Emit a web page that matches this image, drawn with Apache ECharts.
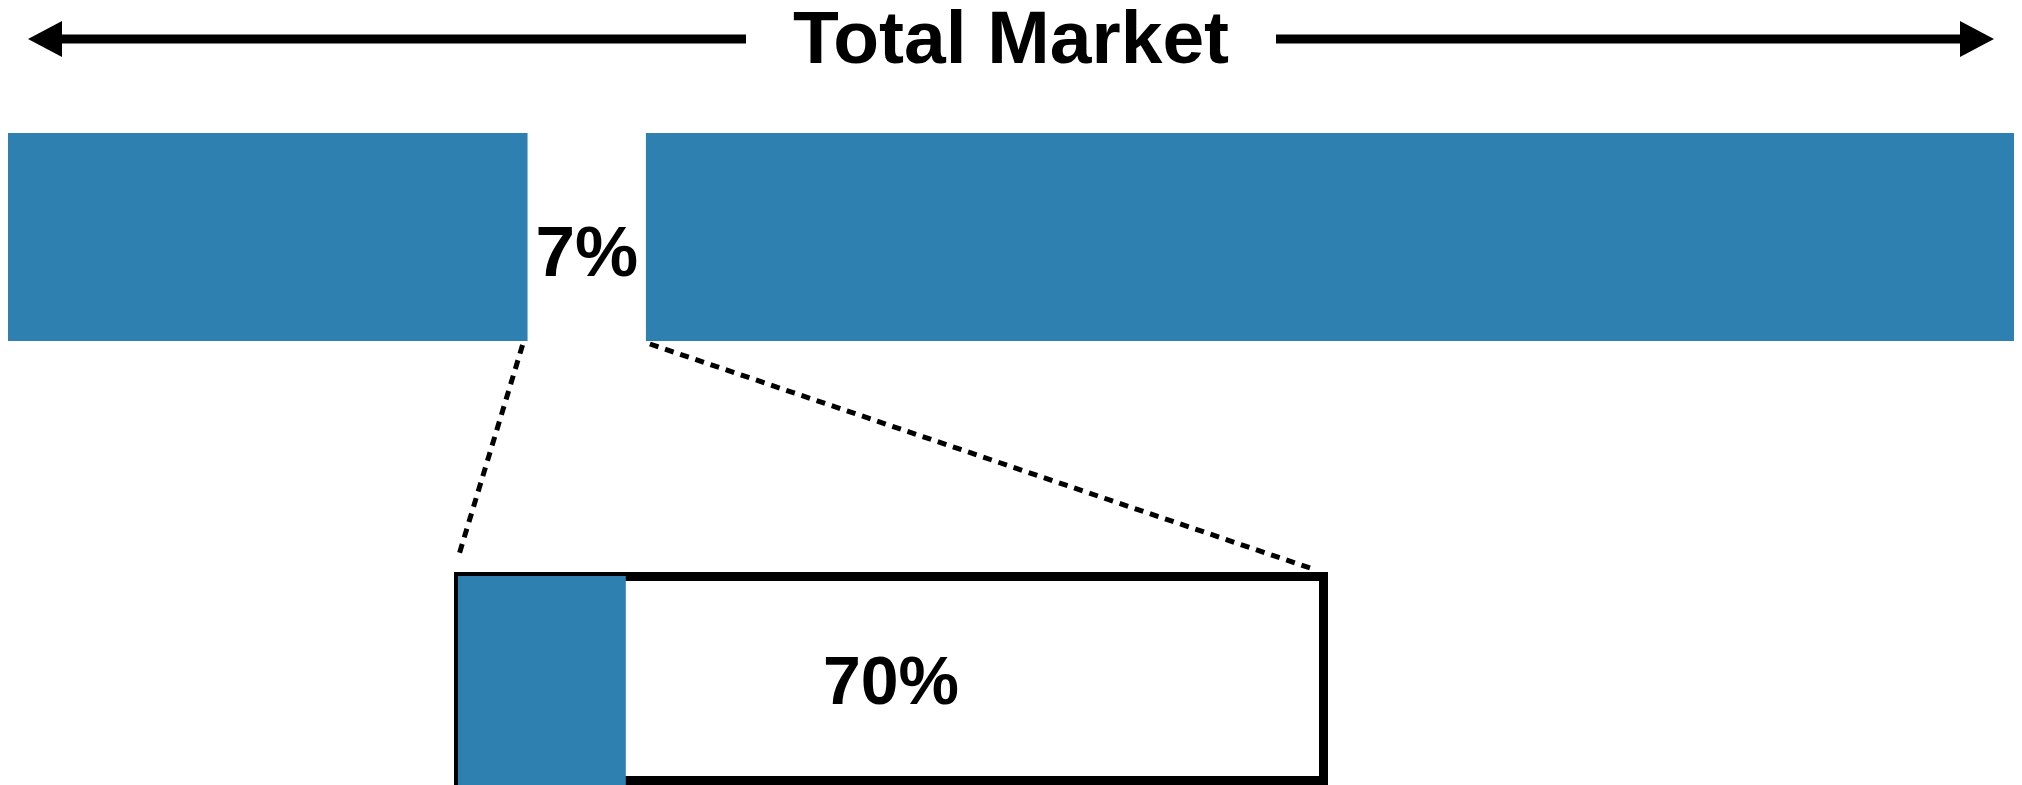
<!DOCTYPE html>
<html>
<head>
<meta charset="utf-8">
<script src="https://cdn.jsdelivr.net/npm/echarts@6/dist/echarts.min.js"></script>
<style>
    html, body { margin: 0; padding: 0; background: #fff; }
    #chart { width: 2022px; height: 785px; }
</style>
</head>
<body>
<div id="chart"></div>
<script>
// top bar: share of the total market (percent of full bar width)
const topNames = ['Rest (left)', 'Segment', 'Rest (right)'];
const topValues = [25.9, 5.9, 68.2];
const topLabel = '7%';

// zoomed box: share inside the 7% segment
const boxNames = ['Captured', 'Box'];
const boxValues = [19.4, 100];
const boxLabel = '70%';

const titleText = 'Total Market';

const blue = '#2e80b1';
const font = '"Liberation Sans", Helvetica, Arial, sans-serif';

let dom = document.getElementById('chart');
let myChart = echarts.init(dom, null, { renderer: 'canvas' });

function hiddenAxes(gridIndex, max) {
    return {
        x: { type: 'value', gridIndex: gridIndex, min: 0, max: max, show: false },
        y: { type: 'category', gridIndex: gridIndex, data: ['m'], show: false }
    };
}

const a0 = hiddenAxes(0, 100);
const a1 = hiddenAxes(1, 100);
const a2 = hiddenAxes(2, 100);

let option = {
    animation: false,
    backgroundColor: '#fff',
    title: {
        text: titleText,
        left: 'center',
        top: 0,
        textStyle: { fontFamily: font, fontWeight: 'bold', fontSize: 75, color: '#000' }
    },
    grid: [
        { left: 8, right: 8, top: 133, height: 208 },
        // outer edge of the framed box (border is drawn inside the bar)
        { left: 454, width: 874, top: 572, height: 216 },
        // inner area of the box
        { left: 458, width: 865, top: 576, height: 209 }
    ],
    xAxis: [a0.x, a1.x, a2.x],
    yAxis: [a0.y, a1.y, a2.y],
    series: [
        {
            type: 'bar', name: topNames[0], stack: 'top',
            xAxisIndex: 0, yAxisIndex: 0, barWidth: '100%',
            itemStyle: { color: blue },
            data: [topValues[0]]
        },
        {
            type: 'bar', name: topNames[1], stack: 'top',
            xAxisIndex: 0, yAxisIndex: 0, barWidth: '100%',
            itemStyle: { color: 'rgba(0,0,0,0)' },
            label: {
                show: true, position: 'inside', offset: [0, 19],
                formatter: topLabel,
                fontFamily: font, fontWeight: 'bold', fontSize: 71, color: '#000'
            },
            data: [topValues[1]]
        },
        {
            type: 'bar', name: topNames[2], stack: 'top',
            xAxisIndex: 0, yAxisIndex: 0, barWidth: '100%',
            itemStyle: { color: blue },
            data: [topValues[2]]
        },
        {
            type: 'bar', name: boxNames[1],
            xAxisIndex: 1, yAxisIndex: 1, barWidth: '100%',
            clip: false,
            itemStyle: { color: '#fff', borderColor: '#000', borderWidth: 9 },
            label: {
                show: true, position: 'inside', offset: [0, 7],
                formatter: boxLabel,
                fontFamily: font, fontWeight: 'bold', fontSize: 68, color: '#000'
            },
            data: [boxValues[1]]
        },
        {
            type: 'bar', name: boxNames[0],
            xAxisIndex: 2, yAxisIndex: 2, barWidth: '100%',
            clip: false,
            itemStyle: { color: blue },
            data: [boxValues[0]]
        }
    ]
};

option && myChart.setOption(option);

// arrows beside the title and the dotted zoom guides
function arrowParts(fromX, tipX, y) {
    let dir = tipX > fromX ? 1 : -1;
    let baseX = tipX - dir * 34;
    return [
        {
            type: 'line',
            shape: { x1: fromX, y1: y, x2: baseX + dir * 2, y2: y },
            style: { stroke: '#000', lineWidth: 9 }
        },
        {
            type: 'polygon',
            shape: { points: [[tipX, y], [baseX, y - 18], [baseX, y + 18]] },
            style: { fill: '#000' }
        }
    ];
}

let gapStart = myChart.convertToPixel({ xAxisIndex: 0 }, topValues[0]);
let gapEnd = myChart.convertToPixel({ xAxisIndex: 0 }, topValues[0] + topValues[1]);
let boxLeft = myChart.convertToPixel({ xAxisIndex: 2 }, 0);
let boxRight = myChart.convertToPixel({ xAxisIndex: 2 }, boxValues[1]);

let dashStyle = { stroke: '#000', lineWidth: 5, lineDash: [9, 7] };

myChart.setOption({
    graphic: [].concat(
        arrowParts(746, 28, 39),
        arrowParts(1276, 1994, 39),
        [
            {
                type: 'line',
                shape: { x1: gapStart - 5, y1: 345, x2: boxLeft, y2: 558 },
                style: dashStyle
            },
            {
                type: 'line',
                shape: { x1: gapEnd + 4, y1: 344, x2: boxRight - 13, y2: 568 },
                style: dashStyle
            }
        ]
    )
});
</script>
</body>
</html>
